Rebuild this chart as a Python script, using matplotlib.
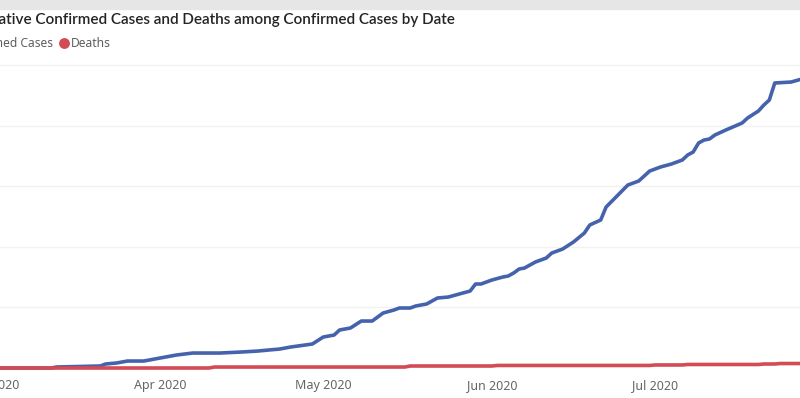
import numpy as np
import pandas as pd
import matplotlib
matplotlib.use("Agg")
import matplotlib.pyplot as plt
import matplotlib.dates as mdates
from matplotlib.patches import Rectangle
from matplotlib.lines import Line2D

# cumulative confirmed cases
case_dates = ["2020-02-25", "2020-03-12", "2020-03-13", "2020-03-21", "2020-03-22", "2020-03-24",
              "2020-03-26", "2020-03-29", "2020-03-31", "2020-04-02", "2020-04-04", "2020-04-07",
              "2020-04-12", "2020-04-16", "2020-04-19", "2020-04-21", "2020-04-23", "2020-04-25",
              "2020-04-29", "2020-05-01", "2020-05-03", "2020-05-04", "2020-05-06", "2020-05-08",
              "2020-05-10", "2020-05-12", "2020-05-14", "2020-05-15", "2020-05-17", "2020-05-18",
              "2020-05-20", "2020-05-22", "2020-05-24", "2020-05-26", "2020-05-28", "2020-05-29",
              "2020-05-30", "2020-06-01", "2020-06-03", "2020-06-04", "2020-06-05", "2020-06-06",
              "2020-06-07", "2020-06-09", "2020-06-11", "2020-06-12", "2020-06-14", "2020-06-16",
              "2020-06-18", "2020-06-19", "2020-06-21", "2020-06-22", "2020-06-24", "2020-06-26",
              "2020-06-28", "2020-06-30", "2020-07-02", "2020-07-04", "2020-07-06", "2020-07-07",
              "2020-07-08", "2020-07-09", "2020-07-10", "2020-07-11", "2020-07-12", "2020-07-14",
              "2020-07-17", "2020-07-18", "2020-07-20", "2020-07-21", "2020-07-22", "2020-07-23",
              "2020-07-26", "2020-07-28"]
cases = [0, 0, 165, 330, 660, 825,
         1150, 1150, 1480, 1810, 2140, 2470,
         2470, 2640, 2800, 2970, 3130, 3460,
         3960, 5110, 5440, 6270, 6600, 7750,
         7750, 9070, 9570, 9900, 9900, 10230,
         10560, 11550, 11710, 12210, 12700, 13860,
         13860, 14520, 15010, 15180, 15670, 16330,
         16500, 17490, 18150, 18970, 19630, 20790,
         22270, 23600, 24420, 26570, 28380, 30200,
         30860, 32500, 33170, 33660, 34320, 35150,
         35640, 37130, 37620, 37790, 38450, 39270,
         40430, 41250, 42410, 43400, 44220, 47030,
         47190, 47690]

# deaths among confirmed cases
death_dates = ["2020-02-25", "2020-04-10", "2020-04-11", "2020-05-16", "2020-05-17", "2020-06-01",
               "2020-06-02", "2020-06-30", "2020-07-01", "2020-07-06", "2020-07-07", "2020-07-20",
               "2020-07-21", "2020-07-23", "2020-07-24", "2020-07-28"]
deaths = [0, 0, 160, 160, 330, 330,
          420, 420, 500, 500, 580, 580,
          660, 660, 740, 740]

blue = "#4563AC"
red = "#D24B55"

fig = plt.figure(figsize=(8, 3.98), dpi=100)
W, H = 800, 398

# pixel -> data mapping of the visible crop (axes runs past the left edge)
px_per_day = 5.44
mar1 = pd.Timestamp("2020-03-01")
left_px = -40
x0 = mar1 + pd.Timedelta(days=(left_px + 8.6) / px_per_day)
x1 = mar1 + pd.Timedelta(days=(800 + 8.6) / px_per_day)
px_per_10k = 60.6
y_top_px, y_bot_px, base_px = 55, 372, 368

ax = fig.add_axes([left_px / W, (H - y_bot_px) / H, (800 - left_px) / W, (y_bot_px - y_top_px) / H])
ax.plot(pd.to_datetime(case_dates), cases, color=blue, lw=2.6, zorder=3,
        solid_joinstyle="round")
ax.plot(pd.to_datetime(death_dates), deaths, color=red, lw=2.6, zorder=4,
        solid_joinstyle="round")

ax.set_xlim(x0, x1)
ax.set_ylim((base_px - y_bot_px) / px_per_10k * 1e4, (base_px - y_top_px) / px_per_10k * 1e4)
ax.set_yticks(np.arange(10000, 50001, 10000))
ax.yaxis.grid(True, color="#f2f2f2", lw=1)
ax.tick_params(axis="y", length=0, labelleft=False)
ax.xaxis.set_major_locator(mdates.MonthLocator())
ax.xaxis.set_major_formatter(mdates.DateFormatter("%b %Y"))
ax.tick_params(axis="x", length=0, pad=5, labelsize=9, labelcolor="#666666")
for lab in ax.get_xticklabels():
    lab.set_fontfamily("Noto Sans")
for s in ax.spines.values():
    s.set_visible(False)

# gray band on top
fig.patches.append(Rectangle((0, (H - 9) / H), 1, 9 / H, transform=fig.transFigure,
                             color="#e6e6e6", zorder=0))

fig.text(455 / W, (H - 24) / H, "Cumulative Confirmed Cases and Deaths among Confirmed Cases by Date",
         ha="right", va="baseline", fontsize=11.0, color="#252423", family="Lato",
         fontweight="semibold")

# legend
fig.text(53 / W, (H - 47) / H, "Confirmed Cases", ha="right", va="baseline",
         fontsize=8.7, color="#605E5C", family="Noto Sans")
fig.add_artist(Line2D([64 / W], [(H - 43) / H], transform=fig.transFigure,
                      marker="o", markersize=6.8, color=red, lw=0))
fig.text(71 / W, (H - 47) / H, "Deaths", ha="left", va="baseline",
         fontsize=8.7, color="#605E5C", family="Noto Sans")

fig.savefig("out.png", dpi=100)
